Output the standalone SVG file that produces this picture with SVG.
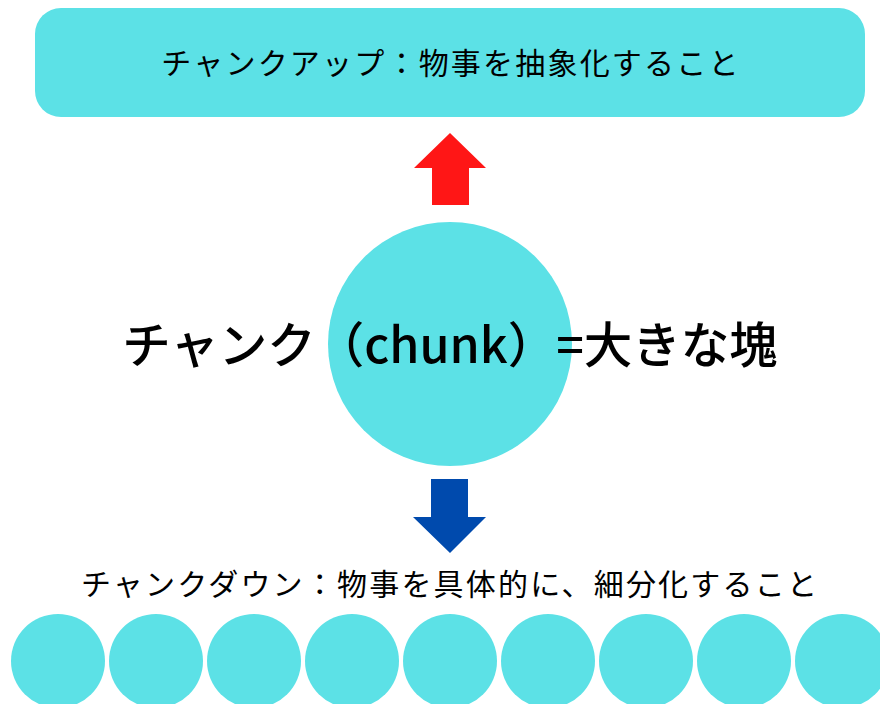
<svg xmlns="http://www.w3.org/2000/svg" width="880" height="704" viewBox="0 0 880 704">
<style>
.cy{fill:#5CE1E6}
.t{font-family:"Noto Sans CJK JP","Noto Sans",sans-serif;fill:#000;text-anchor:middle;font-weight:400}
.s{font-size:30px;letter-spacing:2.2px}
.b{font-size:48.5px;font-weight:500}
</style>
<rect width="880" height="704" fill="#fff"/>
<g id="chunk-up">
<rect class="cy" x="35" y="8" width="830" height="109" rx="26"/>
<text class="t s" x="451" y="74">チャンクアップ：物事を抽象化すること</text>
</g>
<g id="connectors">
<polygon fill="#FF1616" points="450,133 486,168 469,168 469,205 432,205 432,168 414,168"/>
<polygon fill="#004AAD" points="431,479 468,479 468,517 486,517 450,553 413,517 431,517"/>
</g>
<g id="chunk">
<circle class="cy" cx="450" cy="344" r="122"/>
<text class="t b" x="450" y="363">チャンク（chunk）=大きな塊</text>
</g>
<g id="chunk-down">
<text class="t s" x="450" y="595">チャンクダウン：物事を具体的に、細分化すること</text>
<circle class="cy" cx="58" cy="661" r="47"/>
<circle class="cy" cx="156" cy="661" r="47"/>
<circle class="cy" cx="254" cy="661" r="47"/>
<circle class="cy" cx="352" cy="661" r="47"/>
<circle class="cy" cx="450" cy="661" r="47"/>
<circle class="cy" cx="548" cy="661" r="47"/>
<circle class="cy" cx="646" cy="661" r="47"/>
<circle class="cy" cx="744" cy="661" r="47"/>
<circle class="cy" cx="842" cy="661" r="47"/>
</g>
</svg>
